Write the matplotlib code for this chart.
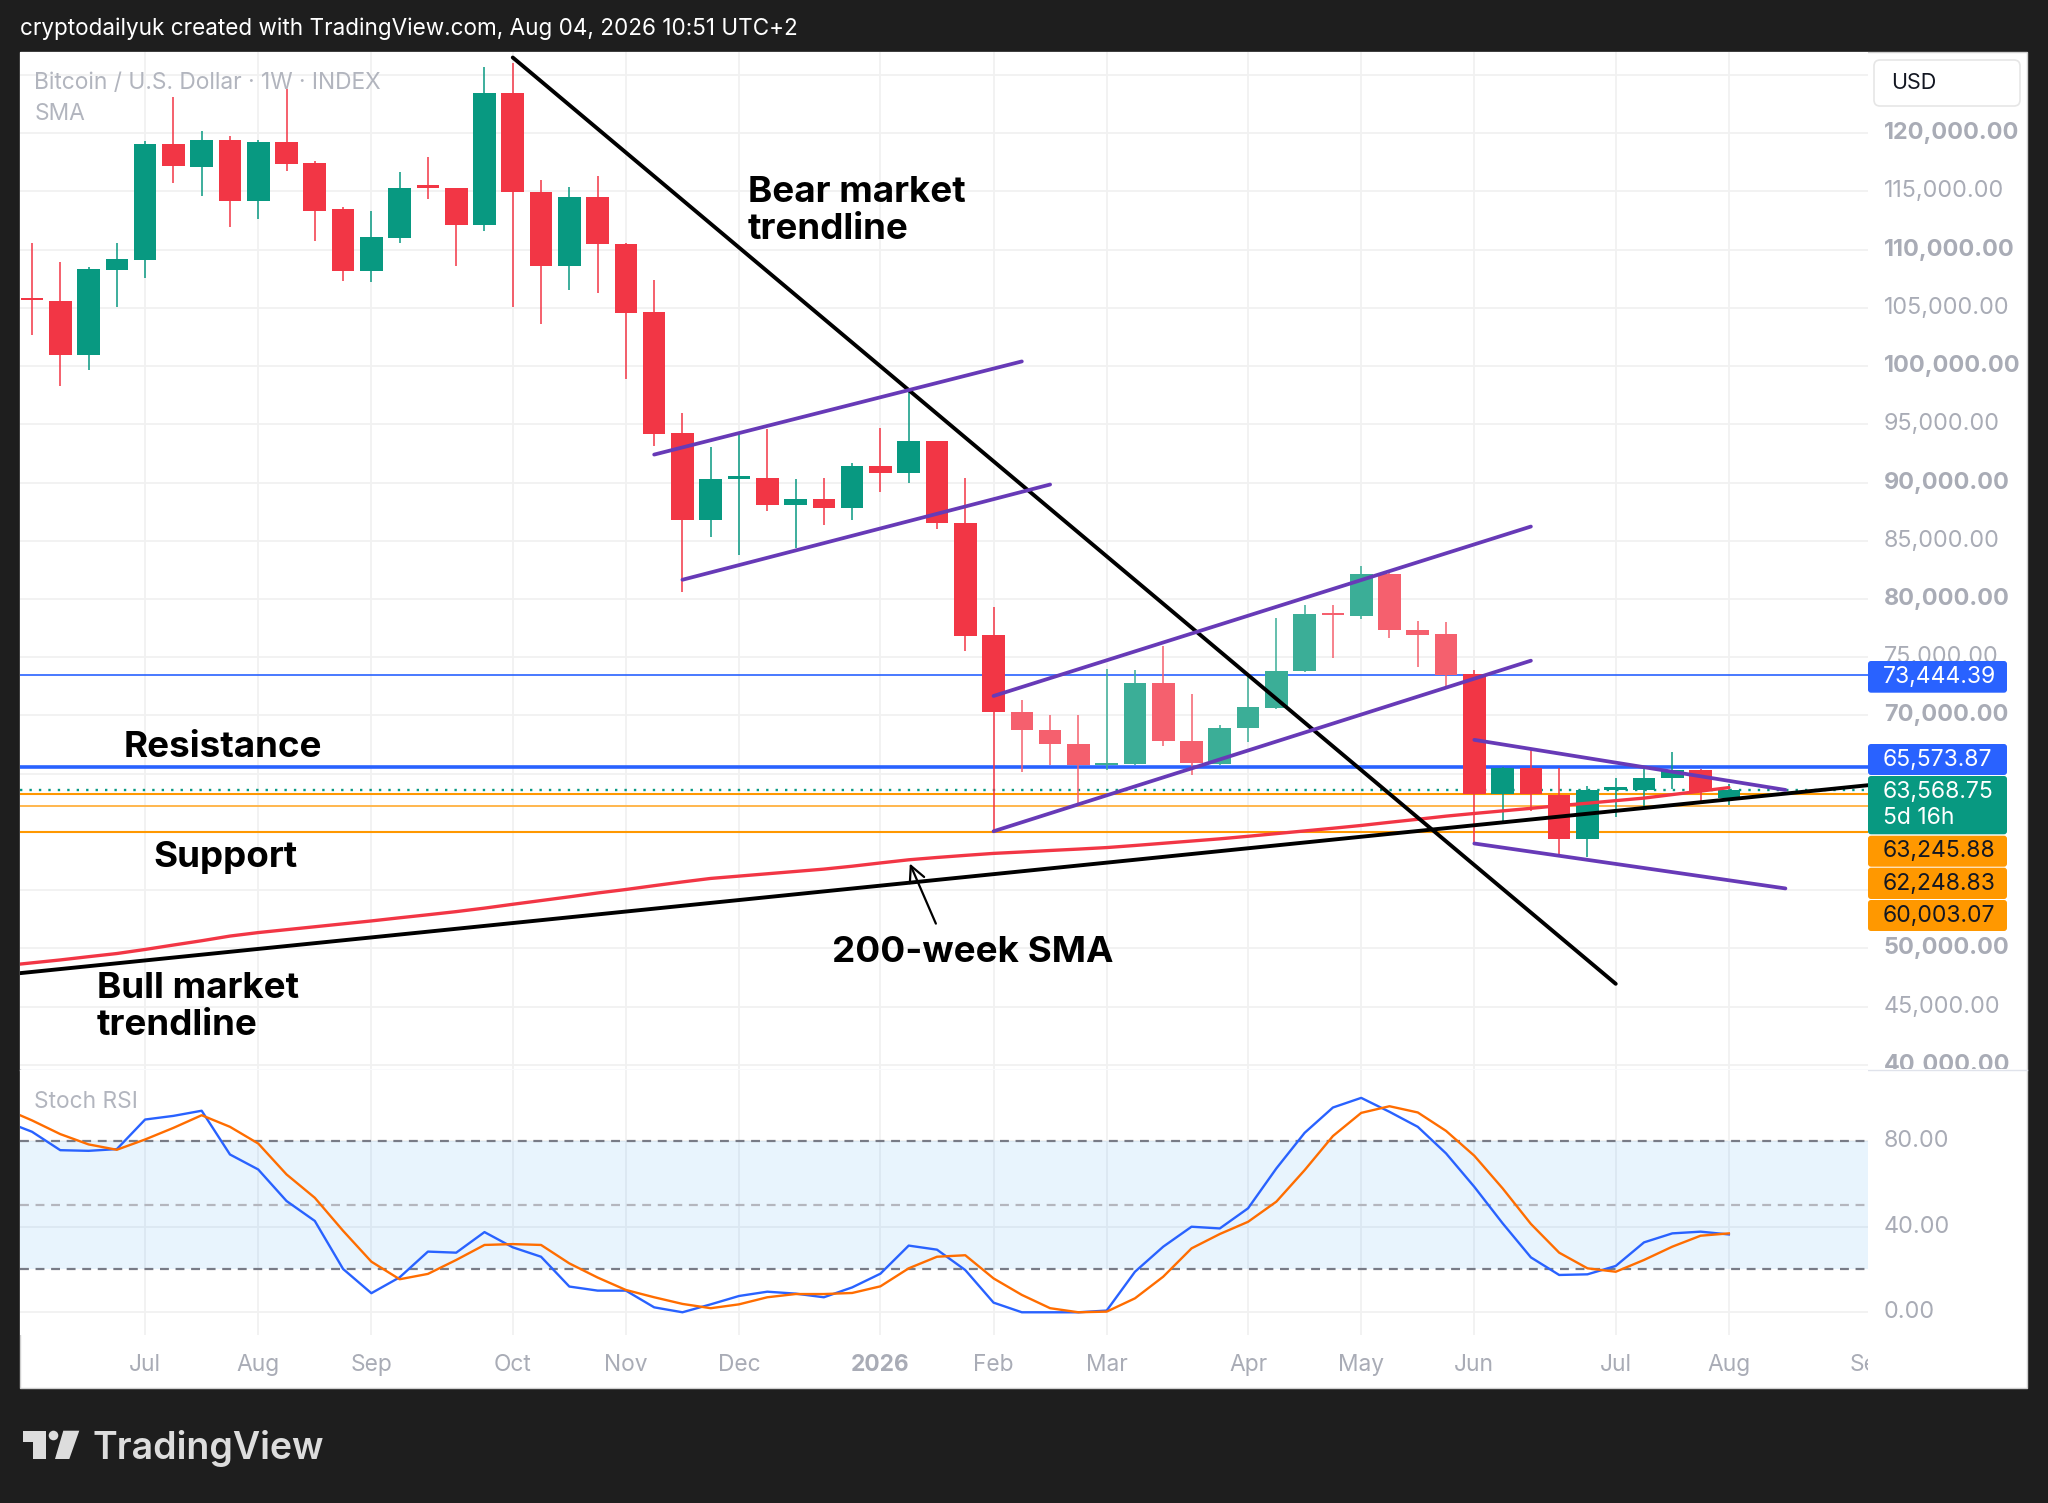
import matplotlib
matplotlib.use('Agg')
import matplotlib.pyplot as plt
from matplotlib.patches import Rectangle, FancyBboxPatch, Polygon, Circle
import pandas as pd

plt.rcParams['font.family'] = ['Inter', 'DejaVu Sans']

# ---------------- data ----------------
weeks = pd.date_range('2025-06-09', periods=66, freq='7D')   # weekly bars (last 5 = future space)

opens = [105800, 105630, 100920, 108260, 109140, 119050, 117130, 119450, 114160, 119270,
         117430, 113520, 108170, 111010, 115400, 115290, 112140, 123460, 114980, 108560,
         114490, 110520, 104650, 94230, 86740, 90300, 90370, 88060, 88600, 87830,
         91430, 90830, 93540, 86540, 76890, 70290, 68710, 67570, 65710, 65860,
         72800, 67830, 65860, 68920, 70640, 73790, 78710, 78510, 82180, 77370,
         76970, 73530, 63280, 65520, 63200, 59420, 63630, 63630, 64630, 65340, 62910]
highs = [110600, 108930, 108470, 110610, 119330, 123090, 120180, 119750, 119400, 123760,
         117580, 113670, 113360, 116670, 117950, 115300, 125660, 126050, 115960, 115410,
         116360, 110610, 107400, 95940, 93060, 94140, 94630, 90310, 90430, 91710,
         94710, 97860, 93600, 90430, 79290, 71340, 70060, 70060, 74000, 73860,
         76000, 71860, 69140, 73300, 78370, 79510, 79510, 82830, 82300, 78140,
         78030, 73930, 65600, 67000, 65490, 63920, 64660, 65430, 66860, 65430, 64150]
lows = [102660, 98320, 99700, 105110, 107550, 115750, 114650, 111930, 112660, 116790,
        110730, 107340, 107250, 110610, 114340, 108620, 111620, 105050, 103640, 106540,
        106270, 98930, 93180, 80570, 85290, 83800, 87570, 84340, 86340, 86740,
        89200, 90000, 86000, 75570, 60003, 65140, 65710, 62249, 65290, 65710,
        67340, 64910, 65710, 67720, 70570, 73710, 74960, 78250, 76680, 74160,
        72530, 59080, 60850, 61750, 58130, 57840, 61280, 62140, 63660, 62510, 62310]
closes = [105650, 100920, 108320, 109205, 119050, 117190, 119450, 114160, 119270, 117370,
          113360, 108170, 111070, 115290, 115300, 112080, 123460, 114980, 108560, 114490,
          110460, 104590, 94190, 86740, 90310, 90450, 88060, 88600, 87830, 91430,
          90830, 93540, 86510, 76830, 70260, 68710, 67510, 65710, 65940, 72800,
          67770, 65940, 68940, 70700, 73790, 78680, 78600, 82180, 77370, 76940,
          73450, 63280, 65520, 63280, 59420, 63630, 63770, 64660, 65340, 63510, 63568.75]
faded_bars = list(range(35, 51))     # lighter-drawn candles (Feb - May 2026)

# values from week -1 (one bar before the first visible candle)
sma200 = [48500, 48750, 49000, 49280, 49550, 49900, 50280, 50650, 51050, 51350, 51600,
          51850, 52100, 52350, 52620, 52880, 53150, 53450, 53780, 54100, 54420,
          54750, 55050, 55380, 55700, 56000, 56200, 56400, 56600, 56800, 57050,
          57330, 57600, 57800, 57980, 58150, 58270, 58400, 58520, 58650, 58830,
          59020, 59210, 59400, 59620, 59850, 60080, 60310, 60550, 60820, 61080,
          61350, 61580, 61800, 62020, 62250, 62460, 62680, 62900, 63200, 63500, 63800]
stoch_k = [89.3, 84.2, 75.6, 75.3, 76.1, 89.9, 91.6, 94.0, 73.6, 66.6, 51.9,
           42.6, 20.2, 8.9, 16.3, 28.3, 27.8, 37.4, 30.3, 25.9, 12.0,
           10.1, 10.1, 2.3, 0.0, 3.7, 7.6, 9.6, 8.7, 7.0, 11.6,
           18.0, 31.1, 29.2, 19.7, 4.5, 0.0, 0.0, 0.0, 0.8, 18.9,
           30.6, 39.9, 39.1, 48.5, 67.1, 83.7, 95.5, 100.0, 93.5, 86.5,
           74.1, 58.5, 41.5, 25.6, 17.4, 17.7, 21.6, 32.6, 36.8, 37.6, 36.3]
stoch_d = [95.2, 89.5, 83.1, 78.3, 75.8, 80.6, 86.0, 91.9, 86.5, 78.7, 64.3,
           53.4, 38.0, 23.6, 15.4, 17.9, 24.4, 31.4, 31.8, 31.4, 22.8,
           16.2, 10.4, 7.0, 3.9, 1.9, 3.7, 7.0, 8.5, 8.5, 9.0,
           12.1, 20.5, 25.9, 26.6, 15.8, 8.1, 1.9, 0.0, 0.3, 6.5,
           16.6, 29.8, 36.5, 42.2, 51.6, 66.3, 82.2, 93.0, 96.1, 93.2,
           84.6, 73.0, 57.8, 41.2, 27.8, 20.5, 18.9, 24.4, 30.6, 35.7, 36.8]

resistance_levels = [73444.39, 65573.87]
support_levels = [63245.88, 62248.83, 60003.07]
last_price = 63568.75
countdown = '5d 16h'

# drawn lines: (bar index, price)
bear_trendline = [(17, 126500), (56, 46950)]
bull_trendline = [(0, 47970), (60, 62790)]
channels = [[(22, 92400), (35, 100400)], [(23, 81650), (36, 89830)],
            [(34, 71670), (53, 86220)], [(34, 60050), (53, 74700)],
            [(51, 67900), (62, 63600)], [(51, 59000), (62, 55140)]]
sma_arrow = [(32.0, 51900), (31.0, 57500)]

price_ticks = list(range(40000, 130000, 5000))
price_labels_hidden = [55000, 60000, 65000, 125000]
stoch_ticks = [0, 40, 80]

# ---------------- layout ----------------
W, H, DPI = 2048, 1503, 100
DARK = '#1E1E1E'
UP, DOWN = '#089981', '#F23645'
UP_L, DOWN_L = '#3BAE97', '#F5606E'
BLUE, ORANGE = '#2962FF', '#FF9800'
GRID = '#F1F1F1'
LABEL = '#A9ACB6'
PURPLE = '#673AB7'


def rect(x0, y0, x1, y1):
    return [x0 / W, 1 - y1 / H, (x1 - x0) / W, (y1 - y0) / H]


fig = plt.figure(figsize=(W / DPI, H / DPI), dpi=DPI, facecolor=DARK)

bg = fig.add_axes([0, 0, 1, 1], zorder=0)
bg.set_xlim(0, W); bg.set_ylim(H, 0); bg.axis('off')
bg.add_patch(Rectangle((20, 52), 2007, 1336, facecolor='white', edgecolor='#CFCFCF', lw=1))
bg.text(20, 29, 'cryptodailyuk created with TradingView.com, Aug 04, 2026 10:51 UTC+2',
        color='white', fontsize=16.2, va='center', ha='left')
# TradingView logo
bg.add_patch(Polygon([(22.7, 1430.7), (45.7, 1430.7), (45.7, 1459), (33.3, 1459), (33.3, 1441.7), (22.7, 1441.7)],
                     closed=True, facecolor='#DDDDDD', edgecolor='none'))
bg.add_patch(Circle((53.5, 1435.5), 4.8, facecolor='#DDDDDD', edgecolor='none'))
bg.add_patch(Polygon([(63.3, 1430.7), (79.3, 1430.7), (69.3, 1459), (55.0, 1459)],
                     closed=True, facecolor='#DDDDDD', edgecolor='none'))
bg.text(92, 1459, 'TradingView', color='#DDDDDD', fontsize=27, fontweight='semibold',
        va='baseline', ha='left')

xmin, xmax = -0.424, 64.92
ymin, ymax = 39634, 126974
x_all = list(range(-1, len(opens)))

# ---------- main price pane ----------
ax = fig.add_axes(rect(20, 52, 1868, 1069), zorder=2)
ax.set_facecolor('white')
ax.set_xlim(xmin, xmax); ax.set_ylim(ymin, ymax)
for s in ax.spines.values():
    s.set_visible(False)
ax.set_xticks([]); ax.set_yticks([])

month_idx, month_lab = [], []
for i, d in enumerate(weeks):
    if i > 0 and d.month != weeks[i - 1].month:
        month_idx.append(i)
        month_lab.append(str(d.year) if d.month == 1 else d.strftime('%b'))

for p in price_ticks:
    ax.axhline(p, color=GRID, lw=1.3, zorder=0)
for m in month_idx:
    ax.axvline(m, color=GRID, lw=1.3, zorder=0)

# horizontal levels
ax.axhline(resistance_levels[0], color=BLUE, lw=1.2, zorder=3)
ax.axhline(resistance_levels[1], color=BLUE, lw=2.6, zorder=3)
ax.axhline(support_levels[0], color=ORANGE, lw=1.5, zorder=3)
ax.axhline(support_levels[1], color='#FFB74D', lw=1.4, zorder=3)
ax.axhline(support_levels[2], color=ORANGE, lw=1.5, zorder=3)
ax.axhline(last_price, color=UP, lw=1.7, ls=(0, (1, 3)), zorder=3)

# candles
xs = list(range(len(opens)))
body_colors, bottoms, heights = [], [], []
for i, (o, c) in enumerate(zip(opens, closes)):
    up = c >= o
    col = (UP_L if up else DOWN_L) if i in faded_bars else (UP if up else DOWN)
    body_colors.append(col)
    bottoms.append(min(o, c))
    heights.append(max(abs(c - o), 230))
ax.vlines(xs, lows, highs, colors=body_colors, lw=1.1, zorder=4)
ax.bar(xs, heights, bottom=bottoms, width=0.8, color=body_colors, edgecolor='none', zorder=5)

# 200-week SMA
ax.plot(x_all, sma200, color=DOWN, lw=2.4, zorder=6, solid_capstyle='round')

# trendlines
(bx0, by0), (bx1, by1) = bull_trendline
slope = (by1 - by0) / (bx1 - bx0)
ax.plot([xmin - 1, xmax + 1], [by0 + slope * (xmin - 1 - bx0), by0 + slope * (xmax + 1 - bx0)],
        color='black', lw=2.8, zorder=7)
ax.plot([p[0] for p in bear_trendline], [p[1] for p in bear_trendline], color='black', lw=2.8,
        zorder=7, solid_capstyle='round')
for ch in channels:
    ax.plot([p[0] for p in ch], [p[1] for p in ch], color=PURPLE, lw=2.7, zorder=7,
            solid_capstyle='round')

ax.annotate('', xy=sma_arrow[1], xytext=sma_arrow[0],
            arrowprops=dict(arrowstyle='->', color='black', lw=1.6, mutation_scale=28), zorder=8)

ax.text(0.0078, 0.97, 'Bitcoin / U.S. Dollar · 1W · INDEX', transform=ax.transAxes,
        color='#B2B5BE', fontsize=16.4, va='center', ha='left', zorder=9)
ax.text(0.0078, 0.9395, 'SMA', transform=ax.transAxes,
        color='#B2B5BE', fontsize=16.4, va='center', ha='left', zorder=9)

# ---------- price scale ----------
sax = fig.add_axes(rect(1868, 52, 2027, 1069), zorder=3)
sax.set_facecolor('white')
sax.set_xlim(0, 1); sax.set_ylim(ymin, ymax)
sax.axis('off')
for p in price_ticks:
    if p in price_labels_hidden:
        continue
    sax.text(0.1, p, f'{p:,.2f}', color=LABEL, fontsize=16.8,
             fontweight='bold' if p % 10000 == 0 else 'normal',
             va='center', ha='left', clip_on=True)

# ---------- Stoch RSI pane ----------
rax = fig.add_axes(rect(20, 1070, 1868, 1335), zorder=2)
rax.set_facecolor('white')
rax.set_xlim(xmin, xmax); rax.set_ylim(-10.6, 113.0)
for s in rax.spines.values():
    s.set_visible(False)
rax.set_xticks([]); rax.set_yticks([])
for m in month_idx:
    rax.axvline(m, color=GRID, lw=1.3, zorder=0)
for t in stoch_ticks:
    rax.axhline(t, color=GRID, lw=1.3, zorder=0)
rax.axhspan(20, 80, color='#2196F3', alpha=0.1, lw=0, zorder=1)
rax.axhline(80, color='#787B86', lw=1.6, ls=(0, (4, 3)), zorder=2)
rax.axhline(50, color='#B4B6BE', lw=1.6, ls=(0, (4, 3)), zorder=2)
rax.axhline(20, color='#787B86', lw=1.6, ls=(0, (4, 3)), zorder=2)
rax.plot(x_all, stoch_k, color=BLUE, lw=1.7, zorder=4)
rax.plot(x_all, stoch_d, color='#FF6D00', lw=1.7, zorder=4)
rax.text(0.0078, 0.88, 'Stoch RSI', transform=rax.transAxes, color='#B2B5BE',
         fontsize=16.4, va='center', ha='left')

rsax = fig.add_axes(rect(1868, 1070, 2027, 1335), zorder=3)
rsax.set_facecolor('white')
rsax.set_xlim(0, 1); rsax.set_ylim(-10.6, 113.0)
rsax.axis('off')
for t in stoch_ticks:
    rsax.text(0.1, t, f'{t:.2f}', color=LABEL, fontsize=16.8, va='center', ha='left', clip_on=True)

# ---------- time axis ----------
tax = fig.add_axes(rect(20, 1336, 1868, 1388), zorder=2)
tax.set_facecolor('white')
tax.set_xlim(xmin, xmax); tax.set_ylim(0, 1)
tax.axis('off')
for m, lab in zip(month_idx, month_lab):
    tax.text(m, 0.45, lab, color=LABEL, fontsize=16.4, ha='center', va='center',
             fontweight='bold' if lab.isdigit() else 'normal', clip_on=True)

# separator between panes
bg.plot([20, 2027], [1069.5, 1069.5], color='#E0E3EB', lw=1)

# ---------- overlay: labels, annotations ----------
fg = fig.add_axes([0, 0, 1, 1], zorder=10)
fg.set_xlim(0, W); fg.set_ylim(H, 0); fg.axis('off')
fg.patch.set_alpha(0)

fg.add_patch(FancyBboxPatch((1874, 60), 146, 46, boxstyle='round,pad=0,rounding_size=6',
                            facecolor='white', edgecolor='#E6E6E6', lw=1.2))
fg.text(1891, 83, 'USD', color='#131722', fontsize=15.5, va='center', ha='left')


def price_box(y0, y1, color, lines, text_color):
    fg.add_patch(FancyBboxPatch((1868, y0), 139, y1 - y0, boxstyle='round,pad=0,rounding_size=3',
                                facecolor=color, edgecolor='none'))
    for ty, txt in lines:
        fg.text(1883, ty, txt, color=text_color, fontsize=16.5, va='center', ha='left')


price_box(661, 692.7, BLUE, [(677, f'{resistance_levels[0]:,.2f}')], 'white')
price_box(744, 775, BLUE, [(759.5, f'{resistance_levels[1]:,.2f}')], 'white')
price_box(776, 834.3, UP, [(791.5, f'{last_price:,.2f}'), (817.5, countdown)], 'white')
price_box(835.7, 866.7, ORANGE, [(851, f'{support_levels[0]:,.2f}')], '#131722')
price_box(867.7, 899, ORANGE, [(883.5, f'{support_levels[1]:,.2f}')], '#131722')
price_box(900, 931, ORANGE, [(915.5, f'{support_levels[2]:,.2f}')], '#131722')

ann = dict(color='black', fontsize=26.5, fontweight='bold', va='baseline', ha='left')
fg.text(748, 201.8, 'Bear market', **ann)
fg.text(748, 238.6, 'trendline', **ann)
fg.text(124, 757.3, 'Resistance', **ann)
fg.text(153, 866.7, 'Support', **ann)
fg.text(97, 997.7, 'Bull market', **ann)
fg.text(97, 1035, 'trendline', **ann)
fg.text(832, 961.7, '200-week SMA', **ann)

fig.savefig('out.png', dpi=DPI, facecolor=DARK)
